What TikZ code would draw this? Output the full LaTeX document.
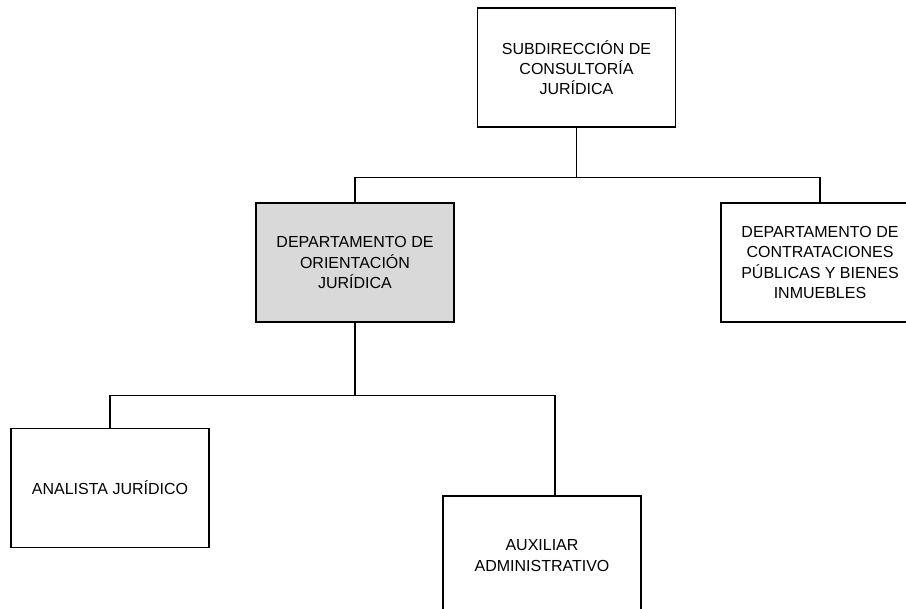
\documentclass[tikz,border=0pt]{standalone}
\usepackage{fontspec}
\setmainfont{Liberation Sans}
\begin{document}
\begin{tikzpicture}[x=1pt,y=-1pt,
  unitbox/.style={draw=black, line width=1.9pt, fill=white, rectangle,
    minimum width=198pt, minimum height=119pt, inner sep=0pt,
    align=center, font=\fontsize{16}{20.2}\selectfont},
  link/.style={draw=black, line width=1.9pt}]
  \useasboundingbox (0,0) rectangle (906,609);
  \fill[white] (0,0) rectangle (906,609);
  \clip (0,0) rectangle (906,609);

  % organisational units
  \node[unitbox] (sub) at (576.5,67.5) {SUBDIRECCIÓN DE\\CONSULTORÍA\\JURÍDICA};
  \node[unitbox, fill=black!15] (ori) at (355,262.5) {DEPARTAMENTO DE\\ORIENTACIÓN\\JURÍDICA};
  \node[unitbox] (con) at (820,262.5) {DEPARTAMENTO DE\\CONTRATACIONES\\PÚBLICAS Y BIENES\\INMUEBLES};
  \node[unitbox] (ana) at (110,488) {ANALISTA JURÍDICO};
  \node[unitbox] (aux) at (542,555.5) {AUXILIAR\\ADMINISTRATIVO};

  % junction points of the connectors
  \coordinate (busA) at (576.5,177.5);
  \coordinate (busB) at (355,395.5);
  \coordinate (auxin) at (555,496);

  % connectors
  \draw[link] (sub.south) -- (busA);
  \draw[link] (ori.north) |- (busA) -| (con.north);
  \draw[link] (ori.south) -- (busB);
  \draw[link] (ana.north) |- (busB) -| (auxin);
\end{tikzpicture}
\end{document}
